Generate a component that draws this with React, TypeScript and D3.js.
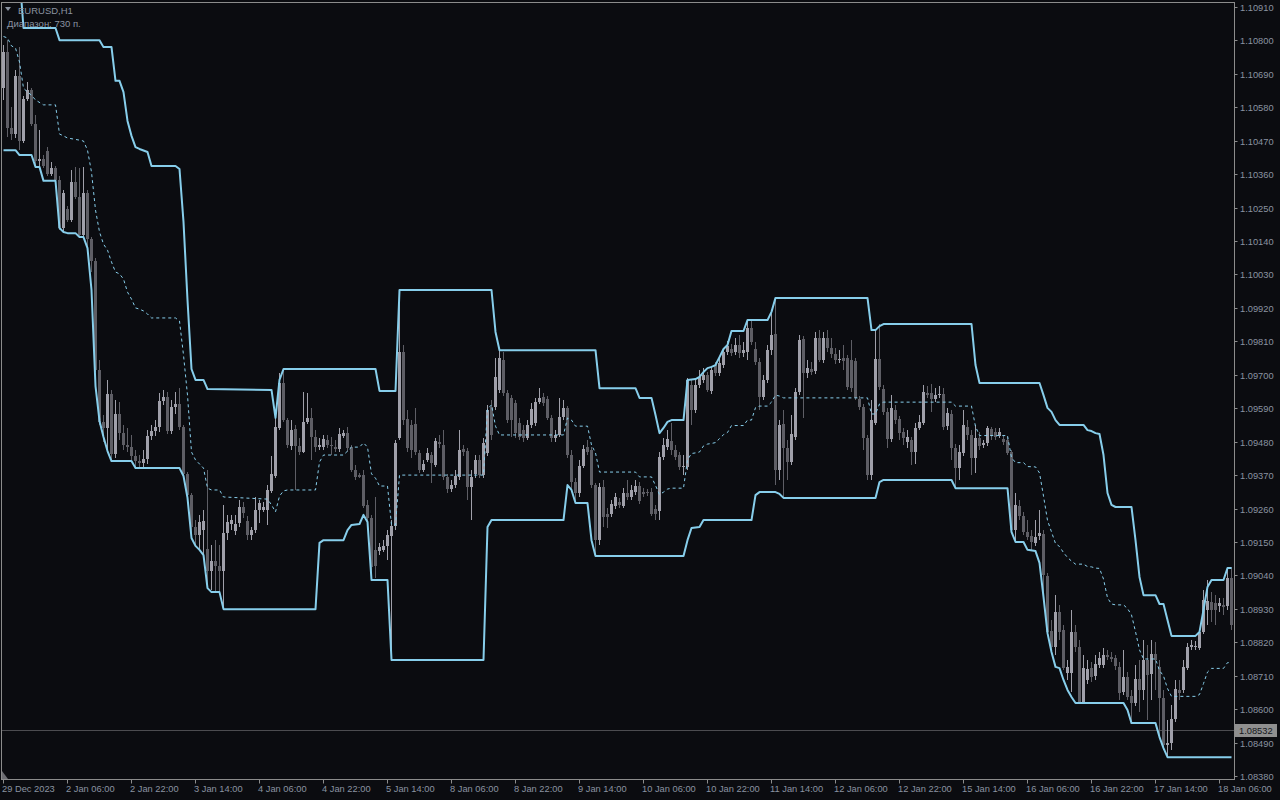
import React from 'react';
import * as d3 from 'd3';

// ---------- DATA ----------
const symbolTitle = 'EURUSD,H1';
const rangeText = 'Диапазон: 730 п.';
const currentPrice = 1.08532;

const priceTicks = [1.08380, 1.08490, 1.08600, 1.08710, 1.08820, 1.08930, 1.09040, 1.09150, 1.09260, 1.09370, 1.09480, 1.09590, 1.09700, 1.09810, 1.09920, 1.10030, 1.10140, 1.10250, 1.10360, 1.10470, 1.10580, 1.10690, 1.10800, 1.10910];

const timeTickBars = [0, 16, 32, 48, 64, 80, 96, 112, 128, 144, 160, 176, 192, 208, 224, 240, 256, 272, 288, 304];
const timeTickLabels = ['29 Dec 2023', '2 Jan 06:00', '2 Jan 22:00', '3 Jan 14:00', '4 Jan 06:00', '4 Jan 22:00', '5 Jan 14:00', '8 Jan 06:00', '8 Jan 22:00', '9 Jan 14:00', '10 Jan 06:00', '10 Jan 22:00', '11 Jan 14:00', '12 Jan 06:00', '12 Jan 22:00', '15 Jan 14:00', '16 Jan 06:00', '16 Jan 22:00', '17 Jan 14:00', '18 Jan 06:00'];

const opens = [
  1.10643,1.10762,1.10512,1.10492,1.10683,1.10469,1.10607,1.10637,1.10525,1.10403,
  1.10410,1.10436,1.10361,1.10380,1.10341,1.10183,1.10245,1.10209,1.10334,1.10285,
  1.10160,1.10298,1.10147,1.10074,1.09716,1.09545,1.09525,1.09637,1.09439,1.09571,
  1.09508,1.09469,1.09462,1.09433,1.09416,1.09410,1.09423,1.09499,1.09515,1.09528,
  1.09614,1.09627,1.09515,1.09594,1.09604,1.09528,1.09374,1.09304,1.09199,1.09173,
  1.09189,1.09127,1.09054,1.09087,1.09071,1.09054,1.09179,1.09209,1.09186,1.09212,
  1.09265,1.09219,1.09173,1.09189,1.09255,1.09255,1.09255,1.09318,1.09367,1.09525,
  1.09673,1.09551,1.09466,1.09522,1.09466,1.09446,1.09545,1.09558,1.09495,1.09462,
  1.09462,1.09485,1.09469,1.09462,1.09456,1.09499,1.09508,1.09462,1.09387,1.09370,
  1.09370,1.09272,1.09229,1.09124,1.09120,1.09124,1.09137,1.09170,1.09202,1.09492,
  1.09775,1.09554,1.09535,1.09538,1.09443,1.09387,1.09420,1.09436,1.09403,1.09479,
  1.09469,1.09364,1.09324,1.09337,1.09364,1.09456,1.09449,1.09331,1.09374,1.09420,
  1.09370,1.09443,1.09594,1.09594,1.09650,1.09749,1.09640,1.09624,1.09607,1.09541,
  1.09518,1.09492,1.09535,1.09541,1.09610,1.09627,1.09620,1.09558,1.09492,1.09502,
  1.09561,1.09591,1.09436,1.09347,1.09311,1.09400,1.09462,1.09453,1.09337,1.09156,
  1.09331,1.09242,1.09242,1.09268,1.09281,1.09268,1.09311,1.09298,1.09314,1.09334,
  1.09314,1.09314,1.09314,1.09258,1.09252,1.09429,1.09462,1.09482,1.09453,1.09436,
  1.09397,1.09397,1.09666,1.09584,1.09666,1.09683,1.09699,1.09647,1.09732,1.09706,
  1.09732,1.09775,1.09785,1.09775,1.09798,1.09772,1.09775,1.09854,1.09785,1.09742,
  1.09627,1.09683,1.09782,1.09834,1.09387,1.09538,1.09459,1.09413,1.09495,1.09643,
  1.09818,1.09706,1.09719,1.09712,1.09821,1.09749,1.09821,1.09788,1.09768,1.09749,
  1.09755,1.09755,1.09749,1.09745,1.09620,1.09594,1.09492,1.09370,1.09541,1.09752,
  1.09653,1.09578,1.09489,1.09584,1.09554,1.09512,1.09479,1.09485,1.09446,1.09525,
  1.09541,1.09640,1.09640,1.09620,1.09633,1.09637,1.09531,1.09571,1.09459,1.09393,
  1.09443,1.09528,1.09502,1.09426,1.09492,1.09469,1.09476,1.09522,1.09512,1.09499,
  1.09489,1.09485,1.09446,1.09189,1.09268,1.09235,1.09183,1.09170,1.09147,1.09170,
  1.09176,1.09038,1.08857,1.08804,1.08920,1.08860,1.08719,1.08719,1.08854,1.08804,
  1.08620,1.08696,1.08735,1.08709,1.08745,1.08745,1.08778,1.08771,1.08768,1.08739,
  1.08656,1.08706,1.08643,1.08620,1.08699,1.08663,1.08762,1.08716,1.08781,1.08739,
  1.08637,1.08482,1.08489,1.08567,1.08663,1.08663,1.08735,1.08804,1.08804,1.08801,
  1.08854,1.08926,1.08952,1.08949,1.08939,1.08943,1.08939,1.09031
];

const highs = [
  1.10785,1.10801,1.10581,1.10703,1.10778,1.10617,1.10663,1.10643,1.10555,1.10505,
  1.10423,1.10449,1.10400,1.10387,1.10354,1.10308,1.10255,1.10374,1.10384,1.10380,
  1.10384,1.10308,1.10153,1.10084,1.09749,1.09568,1.09683,1.09650,1.09617,1.09610,
  1.09535,1.09525,1.09502,1.09452,1.09436,1.09452,1.09518,1.09535,1.09551,1.09640,
  1.09650,1.09643,1.09617,1.09643,1.09656,1.09535,1.09380,1.09311,1.09222,1.09239,
  1.09255,1.09387,1.09140,1.09156,1.09140,1.09272,1.09239,1.09239,1.09239,1.09288,
  1.09281,1.09235,1.09199,1.09298,1.09288,1.09281,1.09337,1.09433,1.09558,1.09706,
  1.09719,1.09558,1.09551,1.09535,1.09492,1.09643,1.09640,1.09591,1.09518,1.09492,
  1.09502,1.09502,1.09495,1.09485,1.09525,1.09518,1.09528,1.09469,1.09403,1.09377,
  1.09387,1.09288,1.09239,1.09298,1.09147,1.09156,1.09189,1.09222,1.09485,1.09979,
  1.09798,1.09584,1.09551,1.09591,1.09452,1.09420,1.09459,1.09446,1.09492,1.09502,
  1.09518,1.09374,1.09354,1.09387,1.09518,1.09469,1.09459,1.09387,1.09436,1.09436,
  1.09492,1.09601,1.09617,1.09755,1.09781,1.09775,1.09650,1.09633,1.09617,1.09558,
  1.09535,1.09551,1.09607,1.09624,1.09656,1.09640,1.09630,1.09568,1.09518,1.09624,
  1.09617,1.09597,1.09453,1.09360,1.09420,1.09469,1.09485,1.09462,1.09344,1.09344,
  1.09354,1.09262,1.09288,1.09311,1.09295,1.09327,1.09354,1.09337,1.09354,1.09347,
  1.09327,1.09324,1.09327,1.09272,1.09446,1.09492,1.09518,1.09541,1.09469,1.09446,
  1.09436,1.09689,1.09683,1.09689,1.09716,1.09722,1.09709,1.09726,1.09742,1.09755,
  1.09788,1.09811,1.09801,1.09821,1.09831,1.09808,1.09880,1.09880,1.09808,1.09755,
  1.09699,1.09798,1.09913,1.09953,1.09551,1.09584,1.09485,1.09568,1.09656,1.09831,
  1.09828,1.09749,1.09742,1.09841,1.09847,1.09841,1.09847,1.09821,1.09788,1.09782,
  1.09798,1.09765,1.09814,1.09755,1.09630,1.09604,1.09502,1.09617,1.09847,1.09867,
  1.09666,1.09591,1.09633,1.09601,1.09564,1.09525,1.09518,1.09495,1.09541,1.09568,
  1.09666,1.09663,1.09670,1.09656,1.09663,1.09656,1.09591,1.09584,1.09472,1.09469,
  1.09584,1.09551,1.09518,1.09535,1.09512,1.09485,1.09531,1.09528,1.09525,1.09525,
  1.09499,1.09499,1.09453,1.09311,1.09288,1.09249,1.09222,1.09189,1.09222,1.09255,
  1.09189,1.09048,1.08893,1.08975,1.08943,1.08877,1.08762,1.08926,1.08877,1.08827,
  1.08778,1.08762,1.08755,1.08778,1.08788,1.08801,1.08795,1.08788,1.08778,1.08755,
  1.08795,1.08722,1.08663,1.08745,1.08762,1.08827,1.08811,1.08827,1.08821,1.08762,
  1.08663,1.08564,1.08614,1.08696,1.08696,1.08762,1.08818,1.08827,1.08824,1.08860,
  1.08992,1.09025,1.08985,1.08975,1.08966,1.08966,1.09064,1.09068
];

const lows = [
  1.10604,1.10482,1.10472,1.10479,1.10439,1.10463,1.10601,1.10518,1.10384,1.10384,
  1.10380,1.10354,1.10354,1.10338,1.10176,1.10166,1.10203,1.10203,1.10278,1.10153,
  1.10153,1.10117,1.10038,1.09709,1.09535,1.09479,1.09452,1.09416,1.09426,1.09485,
  1.09452,1.09446,1.09420,1.09397,1.09393,1.09393,1.09406,1.09485,1.09499,1.09512,
  1.09601,1.09505,1.09505,1.09571,1.09518,1.09367,1.09295,1.09163,1.09140,1.09127,
  1.09110,1.09005,1.08992,1.08985,1.08985,1.08933,1.09156,1.09189,1.09173,1.09199,
  1.09229,1.09156,1.09156,1.09179,1.09212,1.09249,1.09206,1.09311,1.09360,1.09518,
  1.09545,1.09459,1.09452,1.09321,1.09436,1.09443,1.09538,1.09420,1.09446,1.09452,
  1.09452,1.09459,1.09436,1.09446,1.09446,1.09492,1.09446,1.09380,1.09354,1.09360,
  1.09262,1.09216,1.09025,1.09031,1.09107,1.09117,1.09091,1.08762,1.09189,1.09485,
  1.09535,1.09446,1.09426,1.09436,1.09377,1.09380,1.09413,1.09344,1.09397,1.09459,
  1.09354,1.09311,1.09314,1.09327,1.09354,1.09433,1.09288,1.09222,1.09360,1.09360,
  1.09360,1.09433,1.09485,1.09584,1.09640,1.09630,1.09541,1.09495,1.09492,1.09485,
  1.09479,1.09485,1.09525,1.09531,1.09604,1.09597,1.09551,1.09479,1.09479,1.09495,
  1.09551,1.09426,1.09321,1.09278,1.09298,1.09393,1.09436,1.09327,1.09104,1.09140,
  1.09199,1.09196,1.09232,1.09258,1.09262,1.09262,1.09288,1.09288,1.09304,1.09275,
  1.09298,1.09301,1.09235,1.09222,1.09222,1.09420,1.09452,1.09436,1.09420,1.09387,
  1.09370,1.09387,1.09535,1.09574,1.09656,1.09673,1.09643,1.09637,1.09696,1.09696,
  1.09722,1.09765,1.09762,1.09765,1.09755,1.09758,1.09749,1.09798,1.09732,1.09584,
  1.09617,1.09673,1.09765,1.09337,1.09354,1.09298,1.09354,1.09403,1.09485,1.09633,
  1.09558,1.09689,1.09699,1.09703,1.09742,1.09739,1.09775,1.09755,1.09735,1.09739,
  1.09716,1.09650,1.09643,1.09617,1.09584,1.09453,1.09354,1.09354,1.09535,1.09650,
  1.09568,1.09459,1.09479,1.09538,1.09485,1.09469,1.09459,1.09403,1.09406,1.09518,
  1.09535,1.09624,1.09578,1.09610,1.09624,1.09518,1.09518,1.09420,1.09327,1.09354,
  1.09433,1.09485,1.09370,1.09377,1.09453,1.09459,1.09466,1.09485,1.09485,1.09492,
  1.09469,1.09436,1.09183,1.09150,1.09222,1.09173,1.09156,1.09124,1.09137,1.09156,
  1.08969,1.08847,1.08795,1.08778,1.08827,1.08729,1.08696,1.08656,1.08788,1.08617,
  1.08617,1.08683,1.08689,1.08696,1.08735,1.08735,1.08762,1.08755,1.08729,1.08630,
  1.08646,1.08630,1.08554,1.08610,1.08591,1.08630,1.08564,1.08630,1.08663,1.08515,
  1.08465,1.08442,1.08465,1.08558,1.08630,1.08653,1.08729,1.08795,1.08795,1.08795,
  1.08847,1.08877,1.08887,1.08877,1.08920,1.08910,1.08926,1.08860
];

const closes = [
  1.10762,1.10512,1.10492,1.10683,1.10469,1.10607,1.10637,1.10525,1.10403,1.10410,
  1.10387,1.10361,1.10380,1.10341,1.10183,1.10298,1.10209,1.10334,1.10285,1.10160,
  1.10298,1.10147,1.10074,1.09716,1.09545,1.09525,1.09637,1.09439,1.09571,1.09508,
  1.09469,1.09462,1.09433,1.09416,1.09410,1.09423,1.09499,1.09515,1.09528,1.09614,
  1.09627,1.09515,1.09594,1.09604,1.09528,1.09374,1.09304,1.09199,1.09173,1.09216,
  1.09219,1.09054,1.09087,1.09071,1.09054,1.09179,1.09216,1.09222,1.09209,1.09265,
  1.09245,1.09173,1.09189,1.09255,1.09278,1.09265,1.09321,1.09374,1.09528,1.09673,
  1.09551,1.09469,1.09518,1.09466,1.09446,1.09545,1.09558,1.09495,1.09462,1.09469,
  1.09489,1.09469,1.09466,1.09456,1.09505,1.09508,1.09459,1.09387,1.09364,1.09364,
  1.09268,1.09229,1.09068,1.09071,1.09133,1.09137,1.09173,1.09202,1.09476,1.09775,
  1.09551,1.09459,1.09452,1.09446,1.09387,1.09406,1.09443,1.09410,1.09482,1.09472,
  1.09364,1.09324,1.09337,1.09367,1.09453,1.09446,1.09331,1.09364,1.09420,1.09370,
  1.09476,1.09584,1.09502,1.09693,1.09755,1.09640,1.09551,1.09551,1.09508,1.09495,
  1.09492,1.09535,1.09587,1.09610,1.09624,1.09607,1.09558,1.09492,1.09502,1.09561,
  1.09591,1.09436,1.09347,1.09311,1.09400,1.09456,1.09446,1.09337,1.09156,1.09331,
  1.09232,1.09232,1.09275,1.09298,1.09272,1.09311,1.09298,1.09321,1.09334,1.09285,
  1.09308,1.09311,1.09242,1.09242,1.09429,1.09469,1.09489,1.09453,1.09429,1.09397,
  1.09400,1.09683,1.09584,1.09666,1.09693,1.09699,1.09650,1.09716,1.09706,1.09739,
  1.09775,1.09795,1.09772,1.09798,1.09772,1.09782,1.09854,1.09808,1.09742,1.09627,
  1.09683,1.09782,1.09831,1.09387,1.09535,1.09459,1.09413,1.09505,1.09643,1.09814,
  1.09706,1.09722,1.09709,1.09821,1.09749,1.09821,1.09788,1.09768,1.09749,1.09752,
  1.09745,1.09660,1.09656,1.09624,1.09594,1.09492,1.09370,1.09551,1.09752,1.09660,
  1.09578,1.09489,1.09591,1.09551,1.09508,1.09492,1.09495,1.09446,1.09525,1.09545,
  1.09643,1.09633,1.09620,1.09633,1.09637,1.09528,1.09574,1.09459,1.09393,1.09446,
  1.09535,1.09502,1.09426,1.09492,1.09466,1.09476,1.09525,1.09499,1.09495,1.09512,
  1.09479,1.09443,1.09189,1.09272,1.09235,1.09183,1.09166,1.09150,1.09166,1.09179,
  1.09041,1.08854,1.08804,1.08920,1.08854,1.08735,1.08739,1.08854,1.08804,1.08620,
  1.08735,1.08732,1.08706,1.08748,1.08768,1.08778,1.08771,1.08765,1.08742,1.08653,
  1.08706,1.08640,1.08620,1.08699,1.08663,1.08762,1.08712,1.08781,1.08762,1.08637,
  1.08482,1.08489,1.08567,1.08666,1.08653,1.08739,1.08804,1.08811,1.08808,1.08854,
  1.08959,1.08956,1.08926,1.08926,1.08949,1.08936,1.09031,1.08877
];

// Channel (upper / lower / middle) — vertices: bar index and price
const upperBars = [0,2,4,5,13,14,24,25,27,28,29,30,31,32,33,34,36,37,43,44,45,46,47,48,50,51,67,68,69,70,93,94,98,99,122,123,124,148,149,158,159,162,163,164,165,166,167,170,171,173,174,175,176,177,178,179,180,181,182,185,186,191,192,193,216,217,218,219,220,242,243,244,259,260,261,262,263,264,270,271,272,273,274,275,276,277,278,282,283,284,285,288,289,290,291,292,298,299,300,301,302,305,306,307];
const upperPrices = [1.11186,1.11124,1.11015,1.10841,1.10841,1.10801,1.10801,1.10778,1.10778,1.10667,1.10667,1.10630,1.10535,1.10486,1.10449,1.10443,1.10433,1.10387,1.10387,1.10377,1.10203,1.09946,1.09719,1.09683,1.09683,1.09653,1.09650,1.09558,1.09683,1.09719,1.09719,1.09647,1.09647,1.09979,1.09979,1.09841,1.09781,1.09781,1.09656,1.09656,1.09624,1.09624,1.09568,1.09508,1.09525,1.09545,1.09551,1.09551,1.09683,1.09686,1.09693,1.09709,1.09722,1.09726,1.09732,1.09758,1.09785,1.09798,1.09844,1.09844,1.09880,1.09880,1.09907,1.09953,1.09953,1.09847,1.09847,1.09860,1.09867,1.09867,1.09732,1.09673,1.09673,1.09633,1.09591,1.09578,1.09551,1.09535,1.09535,1.09518,1.09515,1.09508,1.09505,1.09436,1.09311,1.09272,1.09265,1.09265,1.09156,1.09035,1.08975,1.08975,1.08946,1.08946,1.08893,1.08841,1.08841,1.08854,1.08926,1.09002,1.09025,1.09025,1.09064,1.09064];

const lowerBars = [0,3,4,7,8,9,10,13,14,15,16,18,19,20,21,22,23,24,25,26,27,32,33,44,45,46,47,48,49,50,51,52,54,55,78,79,80,85,86,87,89,90,91,92,96,97,120,121,122,140,141,142,143,146,147,148,170,171,172,174,175,187,188,189,193,194,195,218,219,220,237,238,251,252,253,255,256,258,259,260,261,262,263,264,265,266,267,268,280,281,282,288,289,290,291,307];
const lowerPrices = [1.10439,1.10439,1.10423,1.10423,1.10384,1.10384,1.10338,1.10338,1.10183,1.10170,1.10166,1.10166,1.10153,1.10153,1.10117,1.09979,1.09663,1.09548,1.09495,1.09449,1.09416,1.09416,1.09393,1.09393,1.09367,1.09295,1.09163,1.09137,1.09124,1.09107,1.08998,1.08985,1.08985,1.08929,1.08929,1.09147,1.09156,1.09156,1.09189,1.09206,1.09209,1.09239,1.09216,1.09025,1.09025,1.08762,1.08762,1.09199,1.09222,1.09222,1.09337,1.09321,1.09278,1.09278,1.09156,1.09104,1.09104,1.09156,1.09196,1.09199,1.09222,1.09222,1.09304,1.09314,1.09314,1.09308,1.09295,1.09295,1.09347,1.09354,1.09354,1.09327,1.09327,1.09183,1.09150,1.09150,1.09124,1.09120,1.09081,1.08969,1.08850,1.08788,1.08739,1.08735,1.08696,1.08663,1.08640,1.08620,1.08620,1.08597,1.08554,1.08554,1.08508,1.08472,1.08442,1.08442];

const midBars = [0,1,2,3,4,5,6,7,8,10,13,14,15,16,19,20,21,22,23,24,25,26,27,28,29,30,31,32,33,34,35,36,37,43,44,45,46,47,48,50,51,52,54,55,66,67,68,69,70,71,78,79,80,85,86,87,89,90,91,92,93,94,96,97,98,99,120,121,122,123,124,140,141,142,143,146,147,148,149,158,159,162,163,164,165,166,167,170,171,172,173,174,175,176,177,178,179,180,181,182,185,186,187,188,189,191,192,193,194,195,216,217,218,219,220,237,238,242,243,244,251,252,253,255,256,258,259,260,261,262,263,264,265,266,267,268,270,271,272,273,274,275,276,277,278,280,281,282,283,284,285,288,289,290,291,292,298,299,300,301,302,305,306,307];
const midPrices = [1.10813,1.10808,1.10782,1.10775,1.10729,1.10643,1.10630,1.10620,1.10604,1.10588,1.10588,1.10492,1.10486,1.10479,1.10472,1.10469,1.10439,1.10367,1.10242,1.10170,1.10130,1.10110,1.10071,1.10038,1.10032,1.10015,1.09972,1.09949,1.09920,1.09916,1.09910,1.09900,1.09887,1.09887,1.09877,1.09765,1.09633,1.09446,1.09420,1.09393,1.09327,1.09321,1.09321,1.09298,1.09291,1.09272,1.09249,1.09301,1.09318,1.09321,1.09321,1.09413,1.09436,1.09436,1.09449,1.09462,1.09462,1.09476,1.09462,1.09374,1.09360,1.09334,1.09334,1.09206,1.09206,1.09370,1.09370,1.09587,1.09601,1.09531,1.09502,1.09502,1.09558,1.09551,1.09531,1.09531,1.09469,1.09443,1.09380,1.09380,1.09364,1.09364,1.09336,1.09306,1.09314,1.09324,1.09327,1.09327,1.09420,1.09441,1.09443,1.09446,1.09466,1.09472,1.09474,1.09477,1.09490,1.09503,1.09510,1.09533,1.09533,1.09551,1.09551,1.09592,1.09597,1.09597,1.09610,1.09633,1.09630,1.09624,1.09624,1.09571,1.09571,1.09604,1.09610,1.09610,1.09597,1.09597,1.09530,1.09500,1.09500,1.09428,1.09411,1.09411,1.09398,1.09397,1.09377,1.09301,1.09221,1.09183,1.09145,1.09135,1.09115,1.09099,1.09087,1.09077,1.09077,1.09069,1.09068,1.09064,1.09063,1.09028,1.08966,1.08946,1.08943,1.08943,1.08931,1.08910,1.08855,1.08795,1.08765,1.08765,1.08727,1.08709,1.08668,1.08642,1.08642,1.08648,1.08684,1.08722,1.08734,1.08734,1.08753,1.08753];

// ---------- STYLE ----------
const BG = '#0b0c10';
const FG = '#8a93a1';
const FRAME = '#8c8c8c';
const CHANNEL = '#87ceeb';
const BULL = '#a0a0aa';
const BEAR = '#5e5e65';
const FONT = '"Liberation Sans", Arial, sans-serif';

const PLOT_L = 1.5, PLOT_T = 2.5, PLOT_R = 1234.5, PLOT_B = 779.5;

export default function App() {
  const x = d3.scaleLinear().domain([0, 307]).range([3.5, 1231.5]);
  const y = d3.scaleLinear().domain([1.0838, 1.1091]).range([776, 7]);

  const line = d3.line<[number, number]>().x(d => x(d[0])).y(d => y(d[1]));
  const upperPath = line(d3.zip(upperBars, upperPrices) as [number, number][]) || '';
  const lowerPath = line(d3.zip(lowerBars, lowerPrices) as [number, number][]) || '';
  const midPath = line(d3.zip(midBars, midPrices) as [number, number][]) || '';

  const idx = d3.range(opens.length);

  return (
    <svg width={1280} height={800} style={{ position: 'fixed', left: 0, top: 0, display: 'block', background: BG }}
      fontFamily={FONT}>
      <rect x={0} y={0} width={1280} height={800} fill={BG} />
      <defs>
        <clipPath id="plotClip">
          <rect x={2} y={3} width={1232} height={776} />
        </clipPath>
      </defs>

      <g clipPath="url(#plotClip)">
        {/* current price line */}
        <line x1={0} x2={PLOT_R} y1={Math.round(y(currentPrice)) + 0.5} y2={Math.round(y(currentPrice)) + 0.5} stroke="#4c4c50" strokeWidth={1} />

        {/* candles */}
        {idx.map(i => {
          const o = opens[i], c = closes[i], h = highs[i], l = lows[i];
          const bull = c >= o;
          const col = bull ? BULL : BEAR;
          const cx = Math.round(x(i) - 0.5);
          const yh = Math.round(y(h)), yl = Math.round(y(l));
          const yTop = Math.round(y(Math.max(o, c)));
          const yBot = Math.round(y(Math.min(o, c)));
          return (
            <g key={i}>
              <rect x={cx} y={yh} width={1} height={Math.max(1, yl - yh)} fill={col} />
              <rect x={cx - 1} y={yTop} width={3} height={Math.max(1, yBot - yTop)} fill={col} />
            </g>
          );
        })}

        {/* channel */}
        <path d={midPath} fill="none" stroke={CHANNEL} strokeWidth={1} strokeDasharray="3 3" />
        <path d={upperPath} fill="none" stroke={CHANNEL} strokeWidth={2} strokeLinejoin="round" />
        <path d={lowerPath} fill="none" stroke={CHANNEL} strokeWidth={2} strokeLinejoin="round" />
      </g>

      {/* frame */}
      <rect x={PLOT_L} y={PLOT_T} width={PLOT_R - PLOT_L} height={PLOT_B - PLOT_T} fill="none" stroke={FRAME} strokeWidth={1} />

      {/* price axis */}
      {priceTicks.map(p => {
        const yy = Math.round(y(p)) + 0.5;
        return (
          <g key={p}>
            <line x1={PLOT_R} x2={PLOT_R + 3} y1={yy} y2={yy} stroke={FRAME} />
            <text x={1240} y={yy + 3.3} fontSize={9.3} fill={FG}>{p.toFixed(5)}</text>
          </g>
        );
      })}

      {/* current price label */}
      <rect x={1235} y={Math.round(y(currentPrice)) - 6} width={42} height={13} fill="#8f8f8f" />
      <text x={1239} y={Math.round(y(currentPrice)) + 4} fontSize={9.3} fill="#15171c">{currentPrice.toFixed(5)}</text>

      {/* time axis */}
      {timeTickBars.map((b, k) => {
        const xx = Math.round(x(b) - 0.5) + 0.5;
        return (
          <g key={b}>
            <line x1={xx} x2={xx} y1={PLOT_B} y2={PLOT_B + 4} stroke={FRAME} />
            <text x={xx - 1.5} y={792} fontSize={9.3} fill={FG}>{timeTickLabels[k]}</text>
          </g>
        );
      })}

      {/* shift marker */}
      <path d="M2,771 L2,779 L8,779 Z" fill="#6d6d72" />

      {/* title */}
      <path d="M5,7 L11,7 L8,11 Z" fill={FG} />
      <text x={18} y={14} fontSize={9.5} fill={FG}>{symbolTitle}</text>
      <text x={7} y={27} fontSize={9.5} fill={FG}>{rangeText}</text>
    </svg>
  );
}
